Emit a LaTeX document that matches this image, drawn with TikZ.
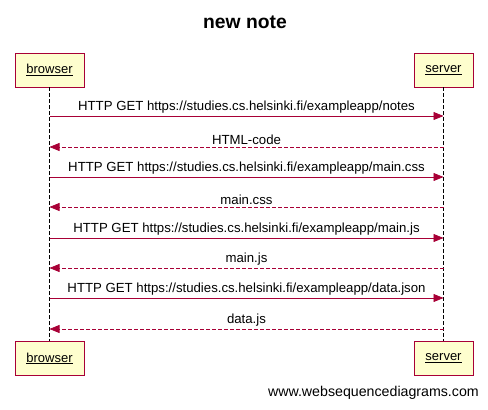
\documentclass[tikz,border=0pt]{standalone}
\usepackage{fontspec}
\setmainfont{Liberation Sans}
\usetikzlibrary{arrows.meta}
\definecolor{umlred}{HTML}{A80036}
\definecolor{umlyellow}{HTML}{FEFECE}

\begin{document}
\begin{tikzpicture}[x=1pt,y=-1pt,
  actor/.style={draw=umlred,fill=umlyellow,minimum height=34pt,inner sep=0pt,font=\fontsize{13}{15}\selectfont},
  lifeline/.style={black,dash pattern=on 4pt off 2pt,line width=0.6pt},
  req/.style={umlred,line width=0.7pt,-{Triangle[length=10pt,width=8pt]}},
  resp/.style={umlred,line width=0.7pt,dash pattern=on 4pt off 2pt,-{Triangle[length=10pt,width=8pt]}},
  msg/.style={black,above=1pt,inner sep=1pt,font=\fontsize{13.2}{15}\selectfont}]
  \useasboundingbox (0,0) rectangle (488,410);
  \node[font=\bfseries\fontsize{19.3}{22}\selectfont] (title) at (245,22) {new note};
  \node[actor,minimum width=69pt] (browser) at (49.5,70) {\underline{browser}};
  \node[actor,minimum width=59pt] (server) at (443.5,70) {\underline{server}};
  \node[actor,minimum width=69pt] (browserEnd) at (49.5,358.5) {\underline{browser}};
  \node[actor,minimum width=59pt] (serverEnd) at (443.5,358.5) {\underline{server}};
  \draw[lifeline] (browser) -- (browserEnd);
  \draw[lifeline] (server) -- (serverEnd);
  % message ends on the lifelines
  \foreach \i/\y in {1/116,2/147,3/177,4/207,5/238,6/268,7/298,8/329}{
    \coordinate (b\i) at (49.5,\y);
    \coordinate (s\i) at (443.5,\y);
  }
  \draw[req] (b1) -- node[msg] {HTTP GET https://studies.cs.helsinki.fi/exampleapp/notes} (s1);
  \draw[resp] (s2) -- node[msg] {HTML-code} (b2);
  \draw[req] (b3) -- node[msg] {HTTP GET https://studies.cs.helsinki.fi/exampleapp/main.css} (s3);
  \draw[resp] (s4) -- node[msg] {main.css} (b4);
  \draw[req] (b5) -- node[msg] {HTTP GET https://studies.cs.helsinki.fi/exampleapp/main.js} (s5);
  \draw[resp] (s6) -- node[msg] {main.js} (b6);
  \draw[req] (b7) -- node[msg] {HTTP GET https://studies.cs.helsinki.fi/exampleapp/data.json} (s7);
  \draw[resp] (s8) -- node[msg] {data.js} (b8);
  \node[anchor=east,inner sep=0pt,font=\fontsize{14.2}{16}\selectfont] (footer) at (479,393) {www.websequencediagrams.com};
\end{tikzpicture}
\end{document}
